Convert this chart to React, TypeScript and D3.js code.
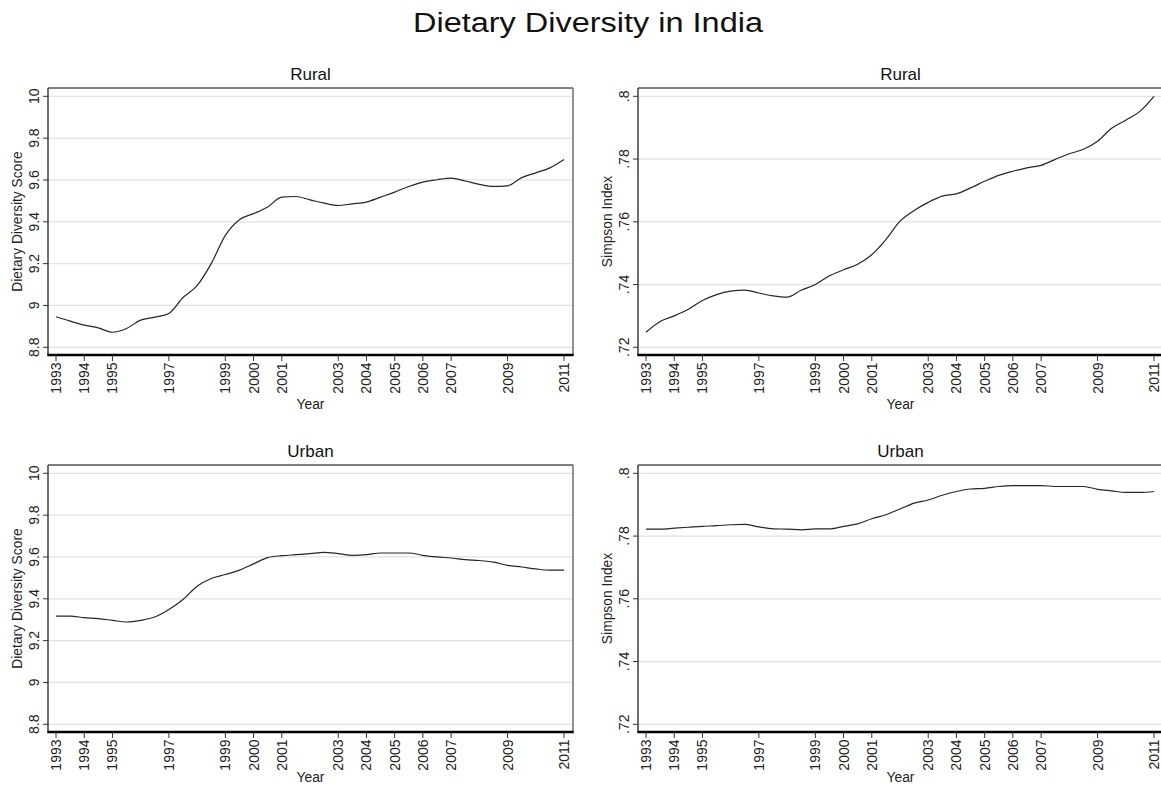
import React from "react";
import * as d3 from "d3";

const years = d3.range(1993, 2011.001, 0.5).map((v) => +v.toFixed(1));

const ruralDDS = [
  8.946, 8.925, 8.906, 8.893, 8.872, 8.89, 8.93, 8.944, 8.962, 9.038, 9.095, 9.2, 9.335,
  9.41, 9.439, 9.471, 9.518, 9.521, 9.505, 9.489, 9.478, 9.486, 9.494, 9.518, 9.542,
  9.569, 9.59, 9.601, 9.609, 9.595, 9.579, 9.569, 9.572, 9.611, 9.634, 9.658, 9.698,
];
const ruralSimpson = [
  0.7248, 0.7282, 0.73, 0.7321, 0.7349, 0.7368, 0.7379, 0.7382, 0.7373, 0.7364, 0.736,
  0.7382, 0.74, 0.7428, 0.7447, 0.7465, 0.7495, 0.7543, 0.7602, 0.7636, 0.7662, 0.7682,
  0.7689, 0.7708, 0.7729, 0.7748, 0.7761, 0.7772, 0.778, 0.7799, 0.7817, 0.7831, 0.7857,
  0.7898, 0.7924, 0.7952, 0.8,
];
const urbanDDS = [
  9.317, 9.317, 9.31, 9.305, 9.297, 9.289, 9.297, 9.313, 9.349, 9.397, 9.46, 9.497, 9.516,
  9.537, 9.567, 9.597, 9.606, 9.611, 9.616, 9.622, 9.616, 9.608, 9.611, 9.619, 9.619,
  9.619, 9.608, 9.6, 9.595, 9.587, 9.583, 9.575, 9.56, 9.552, 9.543, 9.537, 9.537,
];
const urbanSimpson = [
  0.7822, 0.7822, 0.7825, 0.7828, 0.7831, 0.7833, 0.7836, 0.7837, 0.7829, 0.7823, 0.7822,
  0.782, 0.7823, 0.7823, 0.7831, 0.7839, 0.7855, 0.7868, 0.7886, 0.7905, 0.7915, 0.793,
  0.7942, 0.795, 0.7952, 0.7958, 0.7961, 0.7961, 0.7961, 0.7958, 0.7958, 0.7958, 0.7949,
  0.7944, 0.7939, 0.7939, 0.7942,
];

const xTicks = [1993, 1994, 1995, 1997, 1999, 2000, 2001, 2003, 2004, 2005, 2006, 2007, 2009, 2011];
const ddsTicks = [8.8, 9, 9.2, 9.4, 9.6, 9.8, 10];
const ddsTickLabels = ["8.8", "9", "9.2", "9.4", "9.6", "9.8", "10"];
const simpsonTicks = [0.72, 0.74, 0.76, 0.78, 0.8];
const simpsonTickLabels = [".72", ".74", ".76", ".78", ".8"];

const FONT = "'Liberation Sans', Arial, Helvetica, sans-serif";

type PanelProps = {
  left: number;
  top: number;
  title: string;
  yLabel: string;
  values: number[];
  yDomain: [number, number];
  yTicks: number[];
  yTickLabels: string[];
  yearOffset: number;
};

const BOX_W = 525;
const BOX_H = 267;

function Panel({ left, top, title, yLabel, values, yDomain, yTicks, yTickLabels, yearOffset }: PanelProps) {
  const boxLeft = left;
  const boxRight = left + BOX_W;
  const boxTop = top;
  const boxBottom = top + BOX_H;
  const x = d3.scaleLinear().domain([1993, 2011]).range([boxLeft + 8, boxLeft + 516]);
  const y = d3.scaleLinear().domain(yDomain).range([boxBottom - 7.7, boxTop + 8.3]);
  const line = d3
    .line<number>()
    .x((_, i) => x(years[i]))
    .y((d) => y(d))
    .curve(d3.curveMonotoneX);
  const cx = (boxLeft + boxRight) / 2;
  const yMid = (boxTop + boxBottom) / 2;
  return (
    <g>
      <text x={cx} y={boxTop - 8.5} textAnchor="middle" fontSize={17} fill="#111">
        {title}
      </text>
      <rect x={boxLeft} y={boxTop} width={BOX_W} height={BOX_H} fill="#fff" />
      {yTicks.map((t) => (
        <line key={"g" + t} x1={boxLeft} x2={boxRight} y1={y(t)} y2={y(t)} stroke="#e2e2e2" strokeWidth={1.2} />
      ))}
      <path d={line(values) || ""} fill="none" stroke="#262626" strokeWidth={1.2} />
      <line x1={boxLeft} x2={boxRight} y1={boxTop} y2={boxTop} stroke="#555" strokeWidth={1.4} />
      <line x1={boxRight} x2={boxRight} y1={boxTop} y2={boxBottom} stroke="#666" strokeWidth={1.4} />
      <line x1={boxLeft} x2={boxLeft} y1={boxTop} y2={boxBottom} stroke="#333" strokeWidth={1.4} />
      <line x1={boxLeft - 0.7} x2={boxRight + 0.7} y1={boxBottom} y2={boxBottom} stroke="#000" strokeWidth={2.6} />
      {yTicks.map((t, i) => (
        <g key={"y" + t}>
          <line x1={boxLeft - 5} x2={boxLeft} y1={y(t)} y2={y(t)} stroke="#333" strokeWidth={1} />
          <text
            transform={`translate(${boxLeft - 9},${y(t)}) rotate(-90)`}
            textAnchor="middle"
            fontSize={14}
            fill="#222"
          >
            {yTickLabels[i]}
          </text>
        </g>
      ))}
      {xTicks.map((t) => (
        <g key={"x" + t}>
          <line x1={x(t)} x2={x(t)} y1={boxBottom} y2={boxBottom + 6} stroke="#333" strokeWidth={1} />
          <text
            transform={`translate(${x(t) + 5},${boxBottom + 7.5}) rotate(-90)`}
            textAnchor="end"
            fontSize={14}
            fill="#222"
          >
            {t}
          </text>
        </g>
      ))}
      <text
        transform={`translate(${boxLeft - 26},${yMid}) rotate(-90)`}
        textAnchor="middle"
        fontSize={13.8}
        fill="#222"
      >
        {yLabel}
      </text>
      <text x={cx} y={boxBottom + yearOffset} textAnchor="middle" fontSize={13.8} fill="#222">
        Year
      </text>
    </g>
  );
}

export default function App() {
  return (
    <svg
      width={1161}
      height={787}
      style={{ position: "absolute", left: 0, top: 0, background: "#fff" }}
      fontFamily={FONT}
    >
      <rect width={1161} height={787} fill="#fff" />
      <text x={588} y={32} textAnchor="middle" fontSize={27} fill="#111" textLength={350} lengthAdjust="spacingAndGlyphs">
        Dietary Diversity in India
      </text>
      <Panel
        left={48}
        top={88}
        title="Rural"
        yLabel="Dietary Diversity Score"
        values={ruralDDS}
        yDomain={[8.8, 10]}
        yTicks={ddsTicks}
        yTickLabels={ddsTickLabels}
        yearOffset={54}
      />
      <Panel
        left={638}
        top={88}
        title="Rural"
        yLabel="Simpson Index"
        values={ruralSimpson}
        yDomain={[0.72, 0.8]}
        yTicks={simpsonTicks}
        yTickLabels={simpsonTickLabels}
        yearOffset={54}
      />
      <Panel
        left={48}
        top={465}
        title="Urban"
        yLabel="Dietary Diversity Score"
        values={urbanDDS}
        yDomain={[8.8, 10]}
        yTicks={ddsTicks}
        yTickLabels={ddsTickLabels}
        yearOffset={50}
      />
      <Panel
        left={638}
        top={465}
        title="Urban"
        yLabel="Simpson Index"
        values={urbanSimpson}
        yDomain={[0.72, 0.8]}
        yTicks={simpsonTicks}
        yTickLabels={simpsonTickLabels}
        yearOffset={50}
      />
    </svg>
  );
}
